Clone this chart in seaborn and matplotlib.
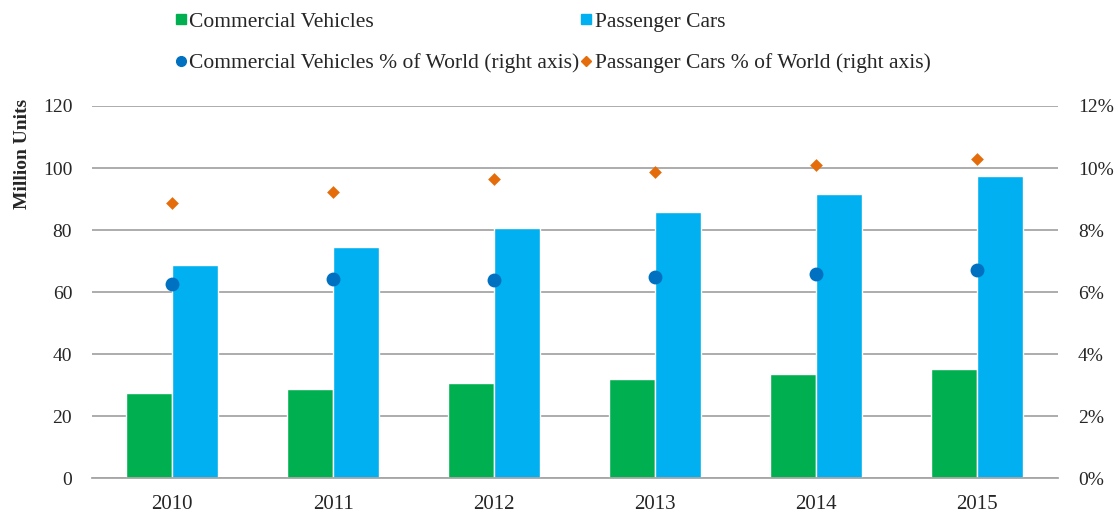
import matplotlib
matplotlib.use("Agg")
import matplotlib.pyplot as plt
from matplotlib.lines import Line2D
from matplotlib.ticker import FixedLocator, PercentFormatter
import pandas as pd
import seaborn as sns

# values
years = ["2010", "2011", "2012", "2013", "2014", "2015"]
commercial = [27.4, 28.8, 30.6, 31.9, 33.5, 35.2]
passenger = [68.7, 74.5, 80.6, 85.8, 91.6, 97.4]
commercial_pct = [6.26, 6.42, 6.39, 6.48, 6.58, 6.71]
passenger_pct = [8.87, 9.23, 9.65, 9.87, 10.10, 10.29]

bar_df = pd.DataFrame({
    "year": years * 2,
    "units": commercial + passenger,
    "type": ["Commercial Vehicles"] * 6 + ["Passenger Cars"] * 6,
})
pct_df = pd.DataFrame({
    "year": years * 2,
    "pct": commercial_pct + passenger_pct,
    "type": ["cv"] * 6 + ["pc"] * 6,
})

sns.set_style("white")
plt.rcParams["font.family"] = ["Liberation Serif", "DejaVu Serif"]
plt.rcParams["font.size"] = 14

green, blue = "#00B050", "#00B0F0"
dot_c, dia_c = "#0070C0", "#E46C0A"
grey = "#A6A6A6"

fig = plt.figure(figsize=(11.18, 5.12), dpi=100)
ax = fig.add_axes([0.082, 0.066, 0.864, 0.727])

sns.barplot(data=bar_df, x="year", y="units", hue="type", order=years,
            palette=[green, blue], width=0.57, gap=0, ax=ax,
            legend=False, saturation=1, zorder=2)
ax.set_ylim(0, 120)
ax.set_yticks(range(0, 121, 20))
ax.yaxis.grid(True, color=grey, linewidth=1.3, zorder=0)
ax.set_axisbelow(True)
ax.set_xlabel("")
ax.set_ylabel("Million Units", fontweight="bold", loc="top")
ax.yaxis.set_label_coords(-0.063, 1.02)
for s in ["left", "right", "top"]:
    ax.spines[s].set_visible(False)
ax.spines["bottom"].set_color(grey)
ax.spines["bottom"].set_linewidth(1.3)
ax.tick_params(axis="y", length=0, pad=14)
ax.tick_params(axis="x", length=0, pad=12, labelsize=15)
ax.xaxis.set_minor_locator(FixedLocator([i - 0.5 for i in range(len(years) + 1)]))
ax.tick_params(axis="x", which="minor", length=6, color=grey, width=1.3)

ax2 = ax.twinx()
cv = pct_df[pct_df["type"] == "cv"]
pc = pct_df[pct_df["type"] == "pc"]
sns.stripplot(data=cv, x="year", y="pct", order=years, jitter=False,
              color=dot_c, marker="o", size=10, linewidth=0, ax=ax2, zorder=3)
sns.stripplot(data=pc, x="year", y="pct", order=years, jitter=False,
              color=dia_c, marker="D", size=6.5, linewidth=0, ax=ax2, zorder=3)
ax2.set_ylim(0, 12)
ax2.set_yticks(range(0, 13, 2))
ax2.yaxis.set_major_formatter(PercentFormatter(decimals=0))
ax2.set_ylabel("")
ax2.set_xlabel("")
ax2.tick_params(axis="y", length=0, pad=14.5)
for s in ["left", "right", "top", "bottom"]:
    ax2.spines[s].set_visible(False)
ax.set_xlim(-0.5, len(years) - 0.5)
ax2.set_xlim(-0.5, len(years) - 0.5)

handles = [
    Line2D([], [], linestyle="none", marker="s", markersize=7, color=green),
    Line2D([], [], linestyle="none", marker="o", markersize=7, color=dot_c),
    Line2D([], [], linestyle="none", marker="s", markersize=7, color=blue),
    Line2D([], [], linestyle="none", marker="D", markersize=5, color=dia_c),
]
labels = ["Commercial Vehicles", "Commercial Vehicles % of World (right axis)",
          "Passenger Cars", "Passanger Cars % of World (right axis)"]
fig.legend(handles, labels, ncol=2, loc="upper left",
           bbox_to_anchor=(0.15, 0.994), frameon=False, fontsize=15.5,
           handlelength=0.45, handletextpad=0.15, columnspacing=0.1,
           labelspacing=1.0, borderaxespad=0)

fig.savefig("out.png", dpi=100)
